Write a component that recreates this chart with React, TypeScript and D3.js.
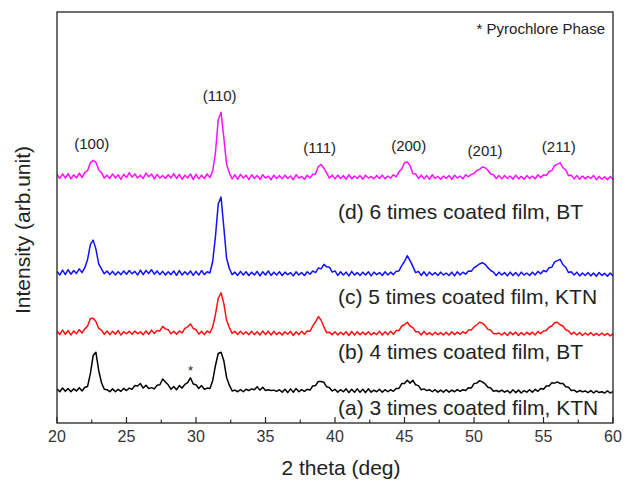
import React from "react";
import * as d3 from "d3";

// XRD patterns, sampled every 0.2 deg from 20 to 60 (2 theta)
const twoTheta = d3.range(0, 201).map((i) => +(20 + i * 0.2).toFixed(1));

const seriesNames = [
  "(a) 3 times coated film, KTN",
  "(b) 4 times coated film, BT",
  "(c) 5 times coated film, KTN",
  "(d) 6 times coated film, BT",
];
const seriesColors = ["#000000", "#ff1010", "#1010ff", "#ff10ff"];
// vertical stacking offsets (arb. units)
const seriesOffsets = [0, 14, 28.5, 52];

const filmA = [
  8.3, 7.6, 8.5, 7.7, 8.4, 7.6, 8.3, 7.8, 8.6, 7.8,
  8.7, 8.9, 12.0, 16.4, 17.2, 12.8, 9.8, 8.2, 8.1, 7.6,
  8.3, 7.6, 8.2, 7.7, 8.4, 7.9, 8.5, 8.2, 9.1, 9.0,
  9.6, 8.5, 9.2, 8.4, 8.6, 8.3, 9.2, 9.3, 10.7, 10.0,
  9.3, 8.2, 8.9, 8.1, 9.1, 8.5, 9.4, 9.8, 11.0, 9.5,
  9.3, 8.4, 9.1, 8.2, 8.5, 8.4, 10.3, 14.0, 16.9, 17.2,
  15.2, 11.1, 9.2, 7.8, 8.0, 7.6, 8.1, 7.6, 8.2, 7.9,
  8.3, 8.1, 8.8, 8.0, 8.7, 7.9, 8.1, 7.9, 8.0, 7.7,
  8.1, 7.5, 8.2, 7.4, 8.3, 7.5, 8.4, 7.6, 8.1, 7.7,
  8.2, 8.0, 9.0, 9.1, 10.1, 10.1, 9.9, 8.8, 8.6, 7.8,
  8.2, 7.5, 8.1, 7.6, 8.3, 7.4, 8.2, 7.5, 8.3, 7.5,
  8.2, 7.4, 8.3, 7.5, 8.0, 7.6, 8.2, 7.5, 8.1, 7.6,
  8.1, 7.7, 8.4, 8.4, 9.6, 9.6, 10.4, 9.7, 10.4, 9.3,
  9.1, 8.1, 8.3, 7.9, 8.1, 7.6, 8.1, 7.5, 8.0, 7.5,
  8.1, 7.5, 8.0, 7.6, 8.1, 7.7, 8.1, 7.9, 8.6, 8.5,
  9.6, 9.7, 10.3, 10.0, 9.5, 8.7, 8.5, 7.7, 7.9, 7.6,
  8.0, 7.5, 7.9, 7.3, 8.1, 7.4, 8.0, 7.3, 7.9, 7.5,
  8.1, 7.5, 8.2, 7.7, 8.4, 8.2, 9.0, 9.0, 9.8, 9.7,
  10.0, 9.6, 9.6, 8.8, 8.7, 7.9, 8.0, 7.5, 7.9, 7.6,
  7.8, 7.4, 7.9, 7.3, 7.8, 7.4, 7.6, 7.3, 7.8, 7.3, 7.6,
];

const filmB = [
  8.4, 7.5, 8.6, 7.6, 8.5, 7.4, 8.4, 7.7, 8.7, 7.9,
  8.9, 9.6, 11.4, 11.5, 10.7, 9.0, 8.6, 7.6, 8.4, 7.5,
  8.3, 7.6, 8.5, 7.4, 8.2, 7.7, 8.3, 7.6, 8.4, 7.7,
  8.2, 7.5, 8.4, 7.6, 8.6, 7.8, 8.5, 8.4, 9.5, 8.9,
  8.7, 7.7, 8.3, 7.6, 8.4, 7.9, 9.0, 9.4, 10.1, 9.0,
  8.7, 7.6, 8.3, 7.5, 8.4, 7.9, 9.4, 12.4, 16.3, 17.7,
  15.1, 11.0, 9.2, 7.8, 8.3, 7.5, 8.3, 7.6, 8.2, 7.5,
  8.3, 7.5, 8.2, 7.4, 8.4, 7.5, 8.3, 7.4, 8.3, 7.5,
  8.1, 7.4, 8.2, 7.6, 8.3, 7.3, 8.2, 7.5, 8.3, 7.6,
  8.4, 8.3, 9.6, 10.6, 11.9, 11.0, 9.4, 8.0, 8.1, 7.5,
  8.2, 7.4, 8.1, 7.5, 8.2, 7.3, 8.3, 7.4, 8.2, 7.5,
  8.1, 7.5, 8.2, 7.4, 8.0, 7.5, 8.3, 7.4, 8.2, 7.5,
  8.3, 7.6, 8.5, 8.5, 9.6, 9.9, 10.5, 9.6, 9.2, 8.2,
  8.2, 7.4, 8.3, 7.5, 8.0, 7.4, 8.1, 7.5, 8.0, 7.4,
  8.1, 7.4, 8.2, 7.5, 8.1, 7.6, 8.2, 7.8, 8.6, 8.6,
  9.4, 9.9, 10.5, 10.3, 9.7, 8.8, 8.6, 7.8, 7.7, 7.9,
  7.4, 8.0, 7.3, 8.1, 7.5, 8.1, 7.3, 8.0, 7.4, 8.1,
  7.5, 8.1, 7.4, 8.3, 7.7, 8.4, 8.5, 9.3, 9.6, 10.4,
  10.5, 9.9, 9.6, 8.7, 8.4, 7.6, 8.1, 7.4, 8.0, 7.3,
  7.9, 7.4, 8.0, 7.3, 7.8, 7.3, 7.9, 7.3, 7.8, 7.2, 7.7,
];

const filmC = [
  8.4, 7.5, 8.7, 7.6, 8.8, 7.7, 8.6, 7.9, 9.0, 8.1,
  9.3, 11.3, 14.9, 16.0, 13.8, 10.2, 9.0, 7.8, 8.5, 7.6,
  8.4, 7.5, 8.3, 7.6, 8.5, 7.7, 8.6, 7.8, 8.4, 7.5,
  8.7, 7.6, 8.6, 7.9, 8.8, 7.7, 8.5, 7.6, 8.4, 7.5,
  8.3, 7.6, 8.5, 7.4, 8.6, 7.5, 8.3, 7.6, 8.5, 7.4,
  8.4, 7.5, 8.6, 7.6, 8.3, 8.0, 10.8, 16.9, 24.8, 26.5,
  19.2, 11.6, 9.1, 7.6, 8.2, 7.4, 8.4, 7.5, 8.3, 7.4,
  8.2, 7.5, 8.4, 7.3, 8.3, 7.5, 8.5, 7.4, 8.2, 7.5,
  8.3, 7.4, 8.2, 7.6, 8.1, 7.3, 8.3, 7.5, 8.1, 7.4,
  8.3, 7.7, 8.5, 8.1, 9.2, 9.0, 10.1, 9.5, 9.4, 8.2,
  8.5, 7.4, 8.3, 7.5, 8.2, 7.3, 8.4, 7.5, 8.1, 7.4,
  8.2, 7.5, 8.3, 7.3, 8.2, 7.6, 8.1, 7.4, 8.3, 7.5,
  8.2, 7.6, 8.4, 8.5, 9.8, 10.8, 12.2, 11.0, 9.6, 8.1,
  8.4, 7.4, 8.3, 7.3, 8.2, 7.5, 8.1, 7.4, 8.2, 7.5,
  8.0, 7.4, 8.2, 7.3, 8.3, 7.5, 8.2, 7.7, 8.5, 8.4,
  9.3, 9.7, 10.2, 10.5, 10.1, 9.3, 8.6, 8.2, 7.4, 8.2,
  7.5, 8.1, 7.3, 8.2, 7.4, 8.1, 7.3, 8.2, 7.5, 8.0,
  7.4, 8.2, 7.5, 8.4, 7.8, 8.6, 8.3, 9.3, 9.4, 10.7,
  11.0, 11.3, 10.0, 9.4, 8.1, 8.3, 7.5, 8.2, 7.3, 8.0,
  7.4, 8.1, 7.3, 8.0, 7.2, 8.1, 7.4, 7.9, 7.2, 8.0, 7.3,
];

const filmD = [
  8.5, 7.5, 8.6, 7.6, 8.7, 7.4, 8.4, 7.6, 8.8, 7.7,
  9.0, 9.4, 11.3, 11.9, 11.4, 9.6, 8.9, 7.6, 8.3, 7.5,
  8.6, 7.6, 8.4, 7.3, 8.5, 7.7, 8.9, 7.8, 8.6, 7.6,
  8.3, 7.5, 8.8, 7.9, 8.6, 7.4, 8.5, 7.6, 8.2, 7.5,
  8.4, 7.6, 8.7, 7.5, 8.5, 7.3, 8.3, 7.6, 8.6, 7.2,
  8.5, 7.4, 8.3, 7.5, 8.6, 7.7, 9.3, 13.8, 21.8, 23.6,
  17.5, 11.0, 8.8, 7.4, 8.4, 7.3, 8.5, 7.6, 8.3, 7.2,
  8.4, 7.5, 8.2, 7.3, 8.4, 7.6, 8.1, 7.2, 8.3, 7.5,
  8.2, 7.4, 8.3, 7.5, 8.1, 7.2, 8.4, 7.6, 8.0, 7.3,
  8.3, 7.6, 8.5, 8.6, 10.4, 10.9, 10.0, 8.8, 7.6, 8.3,
  7.4, 8.3, 7.5, 8.2, 7.3, 8.4, 7.4, 8.1, 7.5, 8.2,
  7.3, 8.3, 7.6, 8.0, 7.4, 8.2, 7.5, 8.3, 7.4, 8.1,
  7.6, 8.4, 7.9, 9.1, 9.8, 11.3, 11.5, 10.6, 8.7, 8.6,
  7.5, 8.3, 7.4, 8.2, 7.3, 8.4, 7.5, 8.0, 7.3, 8.1,
  7.5, 8.2, 7.3, 8.3, 7.6, 8.1, 7.4, 8.4, 7.9, 8.5,
  8.7, 9.4, 9.7, 10.3, 10.1, 9.5, 8.6, 8.4, 7.5, 8.2,
  7.4, 8.2, 7.5, 8.1, 7.3, 8.3, 7.4, 8.0, 7.3, 8.2,
  7.5, 8.1, 7.4, 8.4, 7.7, 8.4, 8.2, 9.2, 9.4, 10.6,
  11.0, 11.3, 10.1, 9.6, 8.2, 8.3, 7.4, 8.2, 7.3, 8.1,
  7.4, 8.0, 7.5, 8.2, 7.2, 8.0, 7.3, 7.9, 7.2, 8.0, 7.3,
];

const seriesValues = [filmA, filmB, filmC, filmD];

// reflections labelled above the top pattern
const reflections = ["(100)", "(110)", "(111)", "(200)", "(201)", "(211)"];
const reflectionAngles = [22.5, 31.7, 38.9, 45.3, 50.8, 56.1];

// pyrochlore peak marked on pattern (a)
const pyrochloreAngle = 29.6;

const xTicks = [20, 25, 30, 35, 40, 45, 50, 55, 60];
const xMinorTicks = [22.5, 27.5, 32.5, 37.5, 42.5, 47.5, 52.5, 57.5];

const W = 633,
  H = 482;
const left = 57,
  right = 613,
  top = 12,
  bottom = 423;
const font = "'Liberation Sans', Arial, sans-serif";

export default function App() {
  const x = d3.scaleLinear().domain([20, 60]).range([left, right]);
  const y = d3.scaleLinear().domain([0, 100]).range([bottom, top]);

  const lineFor = (k: number) =>
    d3
      .line<number>()
      .x((_, i) => x(twoTheta[i]))
      .y((v) => y(v + seriesOffsets[k]))(seriesValues[k]) || "";

  // top of pattern (d) around each reflection, for the hkl labels
  const peakTop = (angle: number) => {
    let m = 0;
    twoTheta.forEach((t, i) => {
      if (Math.abs(t - angle) <= 0.4) m = Math.max(m, filmD[i]);
    });
    return y(m + seriesOffsets[3]);
  };

  const pyroIdx = twoTheta.findIndex((t) => Math.abs(t - pyrochloreAngle) < 0.15);
  let pyroMax = 0;
  for (let i = pyroIdx - 1; i <= pyroIdx + 1; i++) pyroMax = Math.max(pyroMax, filmA[i]);

  const labelY = [408, 352, 297, 212];

  return (
    <svg
      width={W}
      height={H}
      style={{ position: "absolute", left: 0, top: 0, background: "#fff" }}
      fontFamily={font}
    >
      <rect x={0} y={0} width={W} height={H} fill="#fff" />
      <defs>
        <clipPath id="plot">
          <rect x={left} y={top} width={right - left} height={bottom - top} />
        </clipPath>
      </defs>

      <g clipPath="url(#plot)">
        {seriesValues.map((_, k) => (
          <path
            key={k}
            d={lineFor(k)}
            fill="none"
            stroke={seriesColors[k]}
            strokeWidth={1.5}
            strokeLinejoin="round"
          />
        ))}
      </g>

      {/* frame */}
      <rect
        x={left}
        y={top}
        width={right - left}
        height={bottom - top}
        fill="none"
        stroke="#222"
        strokeWidth={1.3}
      />

      {/* x ticks (inward) */}
      {xTicks.map((t) => (
        <g key={t}>
          <line x1={x(t)} x2={x(t)} y1={bottom} y2={bottom - 6} stroke="#222" strokeWidth={1.2} />
          <text x={x(t)} y={442} textAnchor="middle" fontSize={16} fill="#333">
            {t}
          </text>
        </g>
      ))}
      {xMinorTicks.map((t) => (
        <line key={t} x1={x(t)} x2={x(t)} y1={bottom} y2={bottom - 3.5} stroke="#222" strokeWidth={1.1} />
      ))}

      <text x={(left + right) / 2 + 6} y={475} textAnchor="middle" fontSize={21} fill="#222">
        2 theta (deg)
      </text>
      <text
        transform={`translate(30, 230) rotate(-90)`}
        textAnchor="middle"
        fontSize={21}
        fill="#222"
      >
        Intensity (arb.unit)
      </text>

      {/* reflection labels */}
      {reflections.map((r, i) => (
        <text
          key={r}
          x={x(reflectionAngles[i])}
          y={peakTop(reflectionAngles[i]) - 11}
          textAnchor="middle"
          fontSize={15}
          fill="#222"
        >
          {r}
        </text>
      ))}

      <text x={605} y={34} textAnchor="end" fontSize={15} fill="#222">
        * Pyrochlore Phase
      </text>
      <text
        x={x(twoTheta[pyroIdx])}
        y={y(pyroMax + seriesOffsets[0]) - 3}
        textAnchor="middle"
        fontSize={13}
        fill="#222"
      >
        *
      </text>

      {seriesNames.map((n, k) => (
        <text key={n} x={338} y={labelY[k] + 7} fontSize={21} fill="#222">
          {n}
        </text>
      ))}
    </svg>
  );
}
